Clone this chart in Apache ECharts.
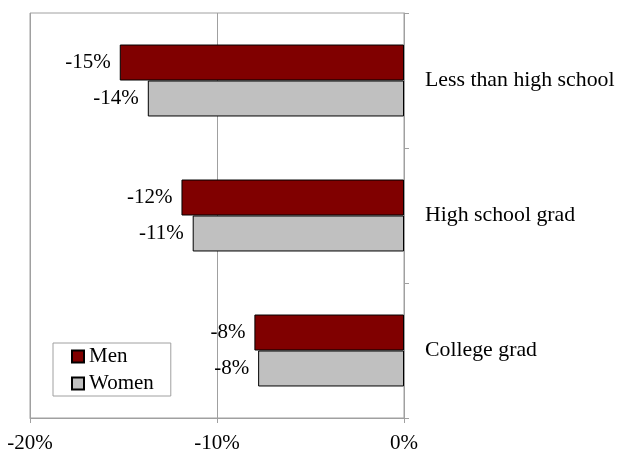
<!DOCTYPE html>
<html>
<head>
<meta charset="utf-8">
<script src="https://cdn.jsdelivr.net/npm/echarts@6/dist/echarts.min.js"></script>
<style>html,body{margin:0;padding:0;background:#fff}#c{width:617px;height:451px}</style>
</head>
<body>
<div id="c"></div>
<script>
var categories = ['Less than high school', 'High school grad', 'College grad'];
var menValues = [-15.2, -11.9, -8.0];
var womenValues = [-13.7, -11.3, -7.8];
var xTicks = [-20, -10, 0];

var FONT = 'Liberation Serif';
var chart = echarts.init(document.getElementById('c'));
chart.setOption({
  animation: false,
  textStyle: { fontFamily: FONT },
  grid: { left: 30, right: 213, top: 13, bottom: 33, show: true, borderColor: '#a0a0a0', borderWidth: 1,
    containLabel: false, outerBoundsMode: 'none' },
  legend: {
    orient: 'vertical', left: 53, top: 343,
    data: ['Men', 'Women'],
    backgroundColor: '#fff', borderColor: '#a0a0a0', borderWidth: 1,
    padding: [3, 17, 2, 18], itemGap: 6, itemWidth: 12, itemHeight: 12,
    icon: 'rect',
    textStyle: { fontFamily: FONT, fontSize: 21, color: '#000' }
  },
  xAxis: {
    type: 'value', min: xTicks[0], max: xTicks[xTicks.length - 1], interval: 10,
    axisLine: { show: true, lineStyle: { color: '#a0a0a0' } },
    axisTick: { show: true, length: 5, lineStyle: { color: '#a0a0a0' } },
    splitLine: { show: true, lineStyle: { color: '#a0a0a0' } },
    axisLabel: { fontFamily: FONT, fontSize: 21, color: '#000', margin: 15, formatter: function (v) { return v + '%'; } }
  },
  yAxis: {
    type: 'category', data: categories, inverse: true, position: 'right',
    axisLine: { show: true, lineStyle: { color: '#a0a0a0' } },
    axisTick: { show: true, length: 5, lineStyle: { color: '#a0a0a0' } },
    axisLabel: { fontFamily: FONT, fontSize: 21.8, color: '#000', margin: 21 },
    splitLine: { show: false }
  },
  series: [
    {
      name: 'Men', type: 'bar', data: menValues, barGap: '0%', barCategoryGap: '46.7%',
      itemStyle: { color: '#800000', borderColor: '#000', borderWidth: 1 },
      label: { show: true, position: 'left', distance: 9, fontFamily: FONT, fontSize: 21, color: '#000',
        formatter: function (p) { return Math.round(p.value) + '%'; } }
    },
    {
      name: 'Women', type: 'bar', data: womenValues, barGap: '0%', barCategoryGap: '46.7%',
      itemStyle: { color: '#c0c0c0', borderColor: '#000', borderWidth: 1 },
      label: { show: true, position: 'left', distance: 9, fontFamily: FONT, fontSize: 21, color: '#000',
        formatter: function (p) { return Math.round(p.value) + '%'; } }
    }
  ]
});
</script>
</body>
</html>
